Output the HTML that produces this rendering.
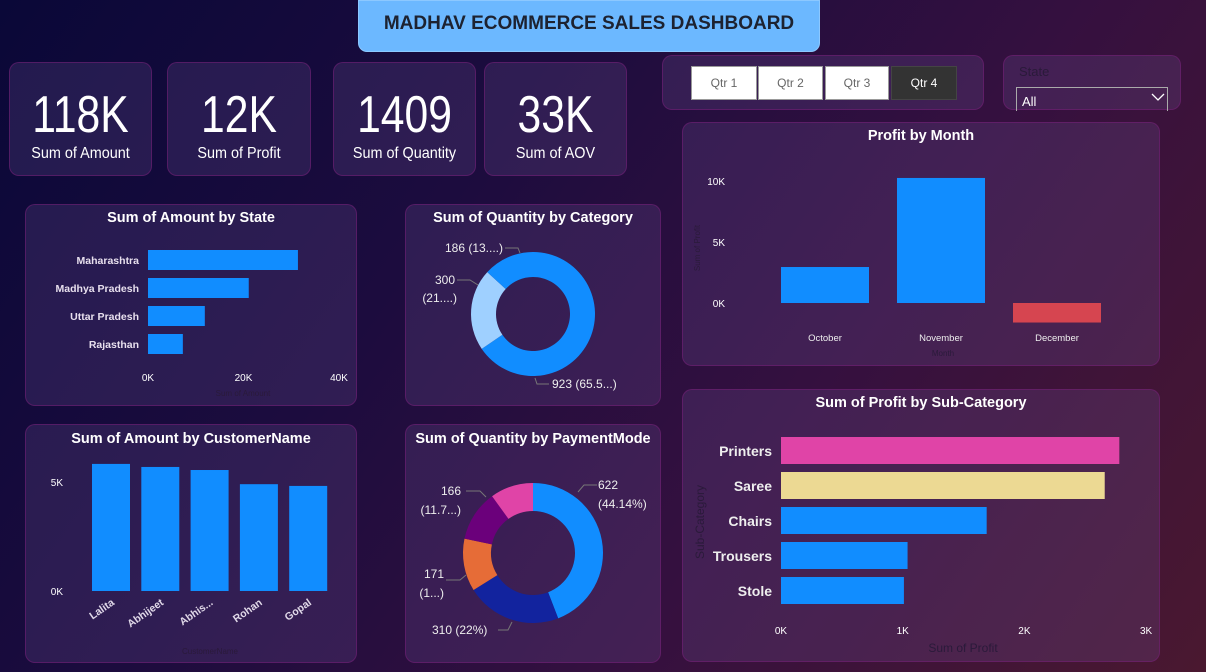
<!DOCTYPE html>
<html><head><meta charset="utf-8"><style>
*{box-sizing:border-box;margin:0;padding:0}
body{width:1206px;height:672px;overflow:hidden;font-family:"Liberation Sans",sans-serif;position:relative;
background:linear-gradient(125deg,#0a0838 0%,#1c0c3e 35%,#35103f 65%,#4a1830 100%)}
.card{position:absolute;border-radius:10px;background:rgba(120,90,160,0.22);border:1px solid rgba(120,30,120,0.55)}
.kpi{text-align:center;color:#fff}
.kpi .v{font-size:52px;margin-top:24px;line-height:56px;transform:scaleX(0.82)}
.kpi .l{font-size:16px;margin-top:2px;transform:scaleX(0.9)}
#title{position:absolute;left:358px;top:0;width:462px;height:52px;background:#6cb8ff;border-radius:0 0 9px 9px;border:1px solid #8cc8ff;
font-weight:bold;font-size:19px;color:#1d2230;text-align:center;line-height:46px}
.qbtn{position:absolute;top:66px;height:34px;background:#fff;border:1px solid #999;color:#666;font-size:12px;text-align:center;line-height:32px}
svg{position:absolute;left:0;top:0}
</style></head><body>
<div id="title">MADHAV ECOMMERCE SALES DASHBOARD</div>
<div class="card kpi" style="left:9px;top:62px;width:143px;height:114px"><div class="v">118K</div><div class="l">Sum of Amount</div></div>
<div class="card kpi" style="left:167px;top:62px;width:144px;height:114px"><div class="v">12K</div><div class="l">Sum of Profit</div></div>
<div class="card kpi" style="left:333px;top:62px;width:143px;height:114px"><div class="v">1409</div><div class="l">Sum of Quantity</div></div>
<div class="card kpi" style="left:484px;top:62px;width:143px;height:114px"><div class="v">33K</div><div class="l">Sum of AOV</div></div>
<div class="card" style="left:662px;top:55px;width:322px;height:55px"></div>
<div class="qbtn" style="left:691px;width:66px">Qtr 1</div>
<div class="qbtn" style="left:758px;width:65px">Qtr 2</div>
<div class="qbtn" style="left:825px;width:64px">Qtr 3</div>
<div class="qbtn" style="left:891px;width:66px;background:#333;color:#fff;border-color:#444">Qtr 4</div>
<div class="card" style="left:1003px;top:55px;width:178px;height:55px"></div>
<div style="position:absolute;left:1019px;top:64px;font-size:13px;color:#2a1a3a">State</div>
<div style="position:absolute;left:1016px;top:87px;width:152px;height:24px;border:1px solid #aaa;border-bottom:none;color:#fff;font-size:13px;padding:6px 0 0 5px">All<svg style="position:absolute;left:134px;top:5px" width="14" height="9"><path d="M1,1 L7,7 L13,1" stroke="#fff" fill="none" stroke-width="1.3"/></svg></div>
<div class="card" style="left:682px;top:122px;width:478px;height:244px"></div>
<div class="card" style="left:25px;top:204px;width:332px;height:202px"></div>
<div class="card" style="left:405px;top:204px;width:256px;height:202px"></div>
<div class="card" style="left:25px;top:424px;width:332px;height:239px"></div>
<div class="card" style="left:405px;top:424px;width:256px;height:239px"></div>
<div class="card" style="left:682px;top:389px;width:478px;height:273px"></div>
<svg id="s" width="1206" height="672" font-family="Liberation Sans, sans-serif"></svg>
<script>
const stateCats=["Maharashtra","Madhya Pradesh","Uttar Pradesh","Rajasthan"];
const stateVals=[31.4,21.1,11.9,7.3];
const stateTicks=[0,20,40];
const custCats=["Lalita","Abhijeet","Abhis...","Rohan","Gopal"];
const custVals=[5.83,5.69,5.55,4.9,4.82];
const custTicks=[0,5];
const monthCats=["October","November","December"];
const monthVals=[2.95,10.25,-1.6];
const monthTicks=[0,5,10];
const subCats=["Printers","Saree","Chairs","Trousers","Stole"];
const subVals=[2.78,2.66,1.69,1.04,1.01];
const subColors=["#e044a7","#ecd993","#118dff","#118dff","#118dff"];
const subTicks=[0,1,2,3];
const catVals=[923,300,186];
const catLabels=["923 (65.5...)","300|(21....)","186 (13....)"];
const catColors=["#118dff","#9fd0ff","#118dff"];
const payVals=[622,310,171,166,140];
const payColors=["#118dff","#12239e","#e66c37","#6b007b","#e044a7"];

const S=document.getElementById('s');const NS="http://www.w3.org/2000/svg";
function el(t,a,txt){const e=document.createElementNS(NS,t);for(const k in a)e.setAttribute(k,a[k]);if(txt!==undefined)e.textContent=txt;S.appendChild(e);return e;}
function title(x,y,t,n){const e=el('text',{x:x,y:y,'text-anchor':'middle','font-size':14.5,'font-weight':'bold',fill:'#fff'},t);

}

// State chart
title(191,222,"Sum of Amount by State","state-chart-title");
{const x=v=>148+v*4.775;const y0=250,step=28,bh=20;
stateTicks.forEach(t=>{const e=el('text',{x:x(t),y:381,'text-anchor':'middle','font-size':10,fill:'#fff'},t+'K');

});
stateCats.forEach((c,i)=>{const r=el('rect',{x:148,y:y0+i*step,width:x(stateVals[i])-148,height:bh,fill:'#118dff'});


const t=el('text',{x:139,y:y0+i*step+14,'text-anchor':'end','font-size':10.5,'font-weight':'bold',fill:'#e8e0ee'},c);

});
const a=el('text',{x:243,y:396,'text-anchor':'middle','font-size':8,fill:'#2a1a3a'},'Sum of Amount');

}

// Customer chart
title(191,443,"Sum of Amount by CustomerName","customer-chart-title");
{const y=v=>591-v*21.8;const x0=92,step=49.3,bw=38;
custTicks.forEach(t=>{const e=el('text',{x:63,y:y(t)+4,'text-anchor':'end','font-size':10,fill:'#fff'},t+'K');

});
custCats.forEach((c,i)=>{const r=el('rect',{x:x0+i*step,y:y(custVals[i]),width:bw,height:591-y(custVals[i]),fill:'#118dff'});


const cx=x0+i*step+bw/2+4;
const t=el('text',{x:cx,y:604,'text-anchor':'end','font-size':10.5,'font-weight':'bold',fill:'#e0d8e8',transform:`rotate(-35 ${cx} 604)`},c);

});
const a=el('text',{x:210,y:654,'text-anchor':'middle','font-size':8,fill:'#2a1a3a'},'CustomerName');

}

// Donut helper
function donut(cx,cy,R,r,vals,cols,name){const tot=vals.reduce((a,b)=>a+b,0);let a0=0;
vals.forEach((v,i)=>{const a1=a0+v/tot*2*Math.PI;const p=(a,rr)=>[cx+rr*Math.sin(a),cy-rr*Math.cos(a)];
const [x1,y1]=p(a0,R),[x2,y2]=p(a1,R),[x3,y3]=p(a1,r),[x4,y4]=p(a0,r);const lg=(a1-a0)>Math.PI?1:0;
const e=el('path',{d:`M${x1},${y1}A${R},${R} 0 ${lg} 1 ${x2},${y2}L${x3},${y3}A${r},${r} 0 ${lg} 0 ${x4},${y4}Z`,fill:cols[i]});


a0=a1;});}
title(533,222,"Sum of Quantity by Category","category-chart-title");
donut(533,314,62,37,catVals,catColors,'category-slice');
function lbl(x,y,t,anc){const e=el('text',{x:x,y:y,'text-anchor':anc||'start','font-size':12,fill:'#eee'},t);

}
lbl(503,252,catLabels[2].split('|')[0],'end');lbl(455,284,"300",'end');lbl(457,302,"(21....)",'end');lbl(552,388,catLabels[0]);
el('path',{d:'M505,248 L518,248 L520,253 M457,280 L470,280 L478,285 M549,384 L537,384 L535,378',stroke:'#777',fill:'none'});

title(533,443,"Sum of Quantity by PaymentMode","payment-chart-title");
donut(533,553,70,42,payVals,payColors,'payment-slice');
lbl(598,489,"622");lbl(598,508,"(44.14%)");lbl(461,495,"166",'end');lbl(461,514,"(11.7...)",'end');
lbl(444,578,"171",'end');lbl(444,597,"(1...)",'end');lbl(432,634,"310 (22%)");
el('path',{d:'M597,485 L584,485 L578,492 M466,491 L480,491 L486,497 M446,580 L460,580 L466,575 M498,630 L508,630 L512,622',stroke:'#777',fill:'none'});

// Profit by month
title(921,140,"Profit by Month","month-chart-title");
{const y=v=>303-v*12.2;const x0=781,step=116,bw=88;
monthTicks.forEach(t=>{const e=el('text',{x:725,y:y(t)+4,'text-anchor':'end','font-size':10,fill:'#fff'},t+'K');

});
monthCats.forEach((c,i)=>{const v=monthVals[i];const r=el('rect',{x:x0+i*step,y:Math.min(y(v),y(0)),width:bw,height:Math.abs(y(v)-y(0)),fill:v<0?'#d64550':'#118dff'});


const t=el('text',{x:x0+i*step+bw/2,y:341,'text-anchor':'middle','font-size':9.5,fill:'#eee'},c);

});
const a=el('text',{x:943,y:356,'text-anchor':'middle','font-size':8,fill:'#2a1a3a'},'Month');


const b=el('text',{x:700,y:248,'text-anchor':'middle','font-size':8,fill:'#2a1a3a',transform:'rotate(-90 700 248)'},'Sum of Profit');

}

// Sub-category
title(921,407,"Sum of Profit by Sub-Category","subcategory-chart-title");
{const x=v=>781+v*121.7;const y0=437,step=35,bh=27;
subTicks.forEach(t=>{const e=el('text',{x:x(t),y:634,'text-anchor':'middle','font-size':10,fill:'#fff'},t+'K');

});
subCats.forEach((c,i)=>{const r=el('rect',{x:781,y:y0+i*step,width:x(subVals[i])-781,height:bh,fill:subColors[i]});


const t=el('text',{x:772,y:y0+i*step+19,'text-anchor':'end','font-size':14,'font-weight':'bold',fill:'#eee'},c);

});
const a=el('text',{x:963,y:652,'text-anchor':'middle','font-size':12,fill:'#2a1a3a'},'Sum of Profit');


const b=el('text',{x:704,y:522,'text-anchor':'middle','font-size':12,fill:'#2a1a3a',transform:'rotate(-90 704 522)'},'Sub-Category');

}
</script>
</body></html>
